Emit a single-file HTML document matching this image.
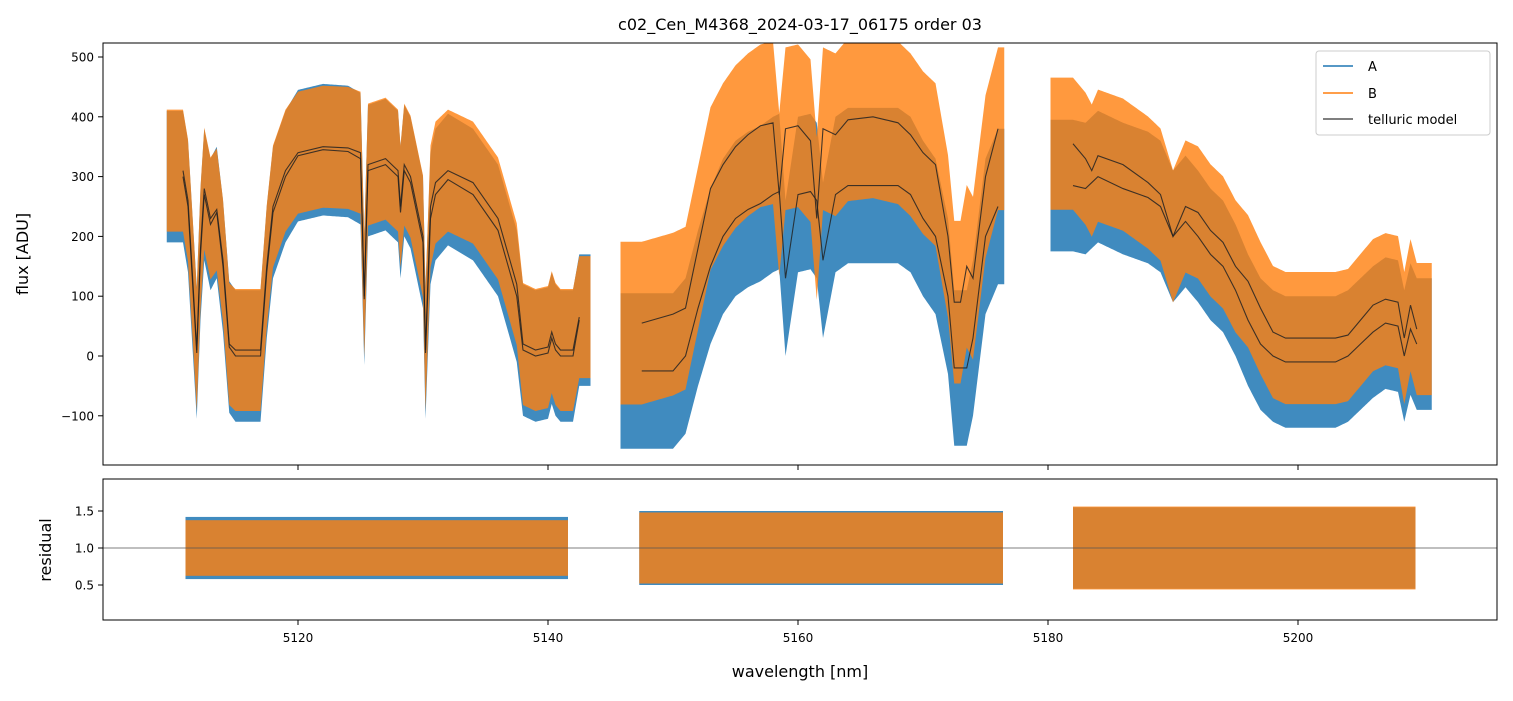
<!DOCTYPE html>
<html><head><meta charset="utf-8"><style>
body{margin:0;background:#fff;font-family:"Liberation Sans","DejaVu Sans",sans-serif;}
svg text{font-family:"DejaVu Sans","Liberation Sans",sans-serif;}
</style></head><body>
<svg id="chart" width="1513" height="696" xmlns="http://www.w3.org/2000/svg">
<defs>
<clipPath id="clipTop"><rect x="103" y="43" width="1394" height="422"/></clipPath>
<clipPath id="clipBot"><rect x="103" y="479" width="1394" height="141"/></clipPath>
</defs>
<rect width="1513" height="696" fill="#fff"/>
<text x="800" y="30" text-anchor="middle" font-size="16">c02_Cen_M4368_2024-03-17_06175  order 03</text>
<g id="topArea" clip-path="url(#clipTop)"></g>
<g id="botArea" clip-path="url(#clipBot)"></g>
<g id="axesG"></g>
<text transform="translate(28,254) rotate(-90)" text-anchor="middle" font-size="16">flux [ADU]</text>
<text transform="translate(51,550) rotate(-90)" text-anchor="middle" font-size="16">residual</text>
<text x="800" y="677" text-anchor="middle" font-size="16">wavelength [nm]</text>
<g>
<rect x="1316" y="51" width="174" height="84" rx="3" fill="#fff" fill-opacity="0.85" stroke="#ccc"/>
<line x1="1323" y1="66" x2="1353" y2="66" stroke="#1f77b4" stroke-width="1.5"/>
<text x="1368" y="71" font-size="13">A</text>
<line x1="1323" y1="93" x2="1353" y2="93" stroke="#ff7f0e" stroke-width="1.5"/>
<text x="1368" y="98" font-size="13">B</text>
<line x1="1323" y1="119" x2="1353" y2="119" stroke="#555" stroke-width="1.5"/>
<text x="1368" y="124" font-size="13">telluric model</text>
</g>
</svg>
<script>
// ---- data ----
const modelB_wl=[5110.8,5111.2,5111.6,5111.9,5112.2,5112.5,5113,5113.5,5114,5114.5,5115,5116,5117,5117.5,5118,5119,5120,5122,5124,5125,5125.3,5125.6,5127,5128,5128.2,5128.5,5129,5130,5130.2,5130.6,5131,5132,5134,5136,5137.5,5138,5139,5140,5140.3,5140.6,5141,5142,5142.5,null,
5147.5,5150,5151,5152,5153,5154,5155,5156,5157,5158,5158.5,5159,5160,5161,5161.5,5162,5163,5164,5166,5167,5168,5169,5170,5171,5172,5172.5,5173,5173.5,5174,5175,5176,null,
5182,5183,5183.5,5184,5186,5188,5189,5190,5191,5192,5193,5194,5195,5196,5197,5198,5199,5200,5201,5203,5204,5205,5206,5207,5208,5208.5,5209,5209.5];
const modelB_val=[310,260,120,10,180,280,230,245,160,20,10,10,10,150,250,310,340,350,348,340,100,320,330,310,250,320,300,200,10,250,290,310,290,230,120,20,10,15,40,20,10,10,65,null,
55,70,80,180,280,320,350,370,385,390,270,380,385,360,230,380,370,395,400,395,390,370,340,320,200,90,90,150,130,300,380,null,
355,330,310,335,320,290,270,200,250,240,210,190,150,125,80,40,30,30,30,30,35,60,85,95,90,30,85,45];
const modelA_wl=modelB_wl;
const modelA_val=[300,250,110,5,170,270,220,240,150,15,0,0,0,140,240,300,335,345,342,330,95,310,320,300,240,310,290,190,5,230,270,295,270,210,100,10,0,5,30,10,0,0,60,null,
-25,-25,0,80,150,200,230,245,255,270,275,130,270,275,260,160,270,285,285,285,285,270,230,200,100,-20,-20,-20,30,200,250,null,
285,280,290,300,280,265,250,200,225,200,170,150,110,60,20,0,-10,-10,-10,-10,0,20,40,55,50,0,45,20];
const noiseA=[110,130,110];
const noiseB=[120,160,130];
const segRange=[[5109.5,5143.5],[5145.8,5176.6],[5180.2,5210.8]];
const resRange=[[5111,5141.6],[5147.3,5176.4],[5182,5209.4]];
const resHalfA=[0.42,0.5,0.55];
const resHalfB=[0.47,0.6,0.7];
const xTicks=[5120,5140,5160,5180,5200];
const yTicksTop=[-100,0,100,200,300,400,500];
const yTicksBot=[0.5,1.0,1.5];
// ---- scales ----
const X=w=>103+(w-5104.4)*12.5;
const YT=v=>356-v*0.598;
const YB=v=>548-(v-1)*74;
const NS='http://www.w3.org/2000/svg';
function mk(t,a,p){const e=document.createElementNS(NS,t);for(const k in a)e.setAttribute(k,a[k]);p.appendChild(e);return e;}
function segs(wl,val){const out=[];let cur=[];wl.forEach((w,i)=>{if(w===null){out.push(cur);cur=[];}else cur.push([w,val[i]]);});out.push(cur);return out;}
function interp(seg,w){if(w<=seg[0][0])return seg[0][1];for(let i=1;i<seg.length;i++){if(w<=seg[i][0]){const a=seg[i-1],b=seg[i];return a[1]+(b[1]-a[1])*(w-a[0])/(b[0]-a[0]);}}return seg[seg.length-1][1];}
const gTop=document.getElementById('topArea'),gBot=document.getElementById('botArea'),gAx=document.getElementById('axesG');
function band(seg,rng,amp,color,op,name){
  let up=[],dn=[];
  for(let w=rng[0];w<=rng[1];w+=0.1){up.push(X(w)+','+YT(interp(seg,w)+amp));dn.unshift(X(w)+','+YT(interp(seg,w)-amp));}
  const p=mk('polygon',{points:up.concat(dn).join(' '),fill:color,'fill-opacity':op},gTop);
  
  
}
const sA=segs(modelA_wl,modelA_val),sB=segs(modelB_wl,modelB_val);
for(let i=0;i<3;i++)band(sA[i],segRange[i],noiseA[i],'#1f77b4',0.85,'series-a-band');
for(let i=0;i<3;i++)band(sB[i],segRange[i],noiseB[i]*0.85,'#ff7f0e',0.8,'series-b-band');
[sA,sB].forEach((S,k)=>S.forEach(seg=>{
  const l=mk('polyline',{points:seg.map(p=>X(p[0])+','+YT(p[1])).join(' '),fill:'none',stroke:'#222','stroke-width':1.1,'stroke-opacity':0.85},gTop);
  
  
}));
for(let i=0;i<3;i++){
  const r=resRange[i];
  const b1=mk('rect',{x:X(r[0]),y:YB(1+resHalfA[i]),width:X(r[1])-X(r[0]),height:YB(1-resHalfA[i])-YB(1+resHalfA[i]),fill:'#1f77b4','fill-opacity':0.85},gBot);
  
  
  const b2=mk('rect',{x:X(r[0]),y:YB(1+resHalfB[i]*0.8),width:X(r[1])-X(r[0]),height:YB(1-resHalfB[i]*0.8)-YB(1+resHalfB[i]*0.8),fill:'#ff7f0e','fill-opacity':0.8},gBot);
  
  
}
const hl=mk('line',{x1:103,x2:1497,y1:YB(1),y2:YB(1),stroke:'#555','stroke-width':0.8},gBot);


mk('rect',{x:103,y:43,width:1394,height:422,fill:'none',stroke:'#000','stroke-width':1},gAx);
mk('rect',{x:103,y:479,width:1394,height:141,fill:'none',stroke:'#000','stroke-width':1},gAx);
xTicks.forEach(t=>{
  mk('line',{x1:X(t),x2:X(t),y1:465,y2:470,stroke:'#000'},gAx);
  mk('line',{x1:X(t),x2:X(t),y1:620,y2:625,stroke:'#000'},gAx);
  const tx=mk('text',{x:X(t),y:642,'text-anchor':'middle','font-size':12},gAx);
  tx.textContent=t;
  
  
});
yTicksTop.forEach(t=>{
  mk('line',{x1:98,x2:103,y1:YT(t),y2:YT(t),stroke:'#000'},gAx);
  const tx=mk('text',{x:94,y:YT(t)+4.5,'text-anchor':'end','font-size':12},gAx);
  tx.textContent=t<0?'\u2212'+(-t):t;
  
  
});
yTicksBot.forEach(t=>{
  mk('line',{x1:98,x2:103,y1:YB(t),y2:YB(t),stroke:'#000'},gAx);
  const tx=mk('text',{x:94,y:YB(t)+4.5,'text-anchor':'end','font-size':12},gAx);
  tx.textContent=t.toFixed(1);
  
  
});
</script>
</body></html>
